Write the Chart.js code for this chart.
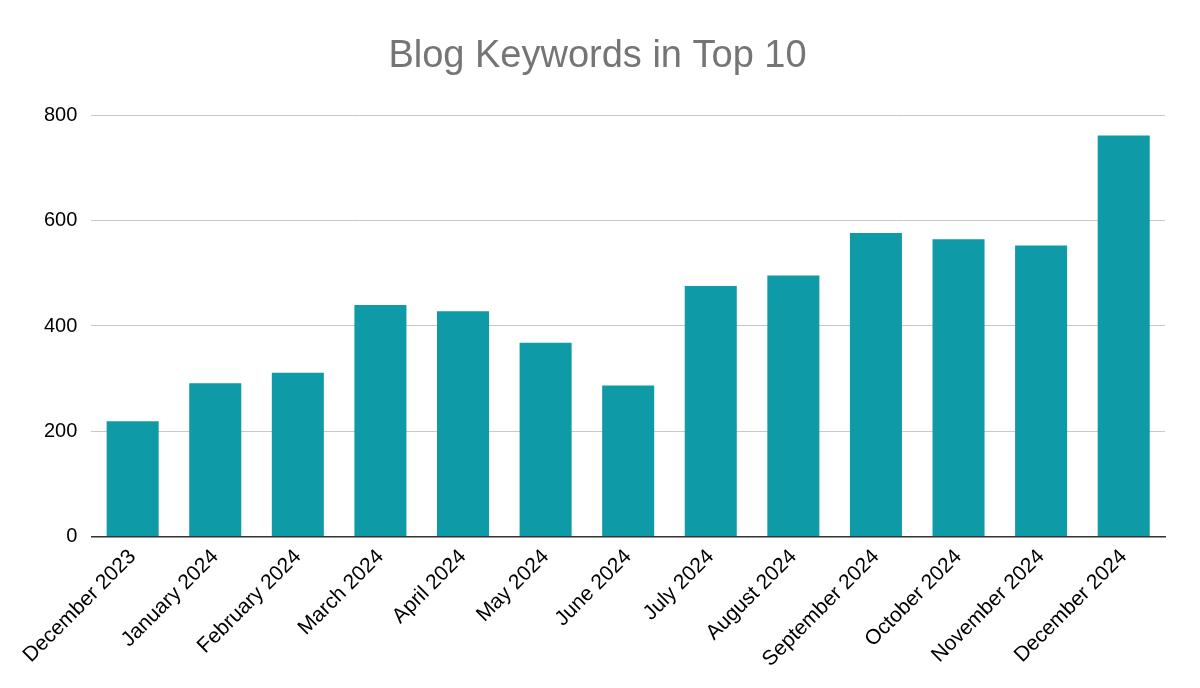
<!DOCTYPE html>
<html><head><meta charset="utf-8">
<script src="https://cdn.jsdelivr.net/npm/chart.js@4"></script>
<style>html,body{margin:0;background:#fff}#w{width:1200px;height:688px}</style>
</head><body><div id="w"><canvas id="c"></canvas></div>
<script>
const categories=["December 2023","January 2024","February 2024","March 2024","April 2024","May 2024","June 2024","July 2024","August 2024","September 2024","October 2024","November 2024","December 2024"];
const keywords=[219,291,311,440,428,368,287,476,496,577,565,553,762];
const yTicks=[0,200,400,600,800];
new Chart(document.getElementById('c'),{
type:'bar',
data:{labels:categories,datasets:[{label:'Keywords',data:keywords,backgroundColor:'#0f9aa7',barPercentage:0.63,categoryPercentage:1}]},
options:{responsive:true,maintainAspectRatio:false,animation:false,
layout:{padding:{left:30,right:35,top:10,bottom:8}},
plugins:{legend:{display:false},tooltip:{enabled:false},
title:{display:true,text:'Blog Keywords in Top 10',color:'#757575',font:{family:'Arial, Liberation Sans',size:38,weight:'normal'},padding:{top:24,bottom:36}}},
scales:{
x:{grid:{display:false,drawTicks:false},border:{color:'#333',width:1.5},
ticks:{color:'#000',font:{family:'Arial, Liberation Sans',size:21},maxRotation:45,minRotation:45,padding:8}},
y:{min:0,max:800,afterBuildTicks:a=>{a.ticks=yTicks.map(v=>({value:v}))},
grid:{color:'#c8c8c8',drawTicks:false},border:{display:false},
ticks:{color:'#000',font:{family:'Arial, Liberation Sans',size:20},padding:14}}}}
});
</script></body></html>
